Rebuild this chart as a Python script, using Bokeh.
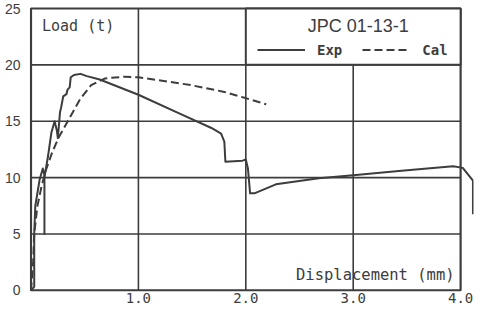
from bokeh.plotting import figure
from bokeh.models import (Range1d, FixedTicker, NumeralTickFormatter, Label,
                          BoxAnnotation, Legend, LegendItem)
from bokeh.embed import file_html
from bokeh.resources import INLINE

# ---- data ----
exp_disp = [0.0, 0.03, 0.03, 0.04, 0.08, 0.11, 0.125, 0.125, 0.125, 0.16, 0.19, 0.22,
            0.24, 0.25, 0.27, 0.28, 0.30, 0.33, 0.34, 0.36, 0.37, 0.40, 0.46, 0.52,
            0.64, 1.00, 1.40, 1.68, 1.77, 1.80, 1.81, 1.97, 2.00, 2.02, 2.04, 2.08,
            2.28, 2.68, 3.00, 3.45, 3.93, 4.02, 4.115, 4.115]
exp_load = [0.0, 0.3, 5.0, 7.5, 9.8, 10.8, 10.2, 5.0, 10.0, 12.0, 14.0, 15.0,
            14.2, 13.5, 15.8, 16.2, 17.2, 17.4, 17.8, 18.0, 18.9, 19.1, 19.2, 19.0,
            18.7, 17.35, 15.6, 14.4, 13.9, 13.2, 11.4, 11.5, 11.6, 10.8, 8.6, 8.6,
            9.4, 9.95, 10.2, 10.6, 11.0, 10.86, 9.72, 6.74]

cal_disp = [0.0, 0.02, 0.03, 0.06, 0.10, 0.14, 0.20, 0.26, 0.36, 0.46, 0.56, 0.69,
            0.87, 1.00, 1.18, 1.49, 1.80, 1.98, 2.19]
cal_load = [0.0, 2.5, 5.0, 7.5, 9.3, 10.7, 12.3, 13.6, 15.3, 17.0, 18.2, 18.8,
            18.95, 18.9, 18.65, 18.2, 17.6, 17.1, 16.5]

x_ticks = [1.0, 2.0, 3.0, 4.0]
y_ticks = [0, 5, 10, 15, 20, 25]
series_names = ["Exp", "Cal"]
title_text = "JPC 01-13-1"
x_title = "Displacement (mm)"
y_title = "Load (t)"

INK = "#3d3d3d"

p = figure(width=474, height=308, output_backend="svg", toolbar_location=None,
           x_range=Range1d(-0.014, 4.12), y_range=Range1d(-0.106, 25.177),
           min_border_left=29, min_border_right=1, min_border_top=6,
           min_border_bottom=17)
p.outline_line_color = None
p.xgrid.grid_line_color = None
p.ygrid.grid_line_color = None
p.background_fill_color = "white"
p.border_fill_color = "white"

xmax = x_ticks[-1]
ymax = y_ticks[-1]
vx = x_ticks[:-1]
hy = y_ticks[1:-1]

# grid lines, derived from the tick arrays
p.segment(x0=vx, y0=[0] * len(vx), x1=vx, y1=[ymax] * len(vx),
          line_color=INK, line_width=1.6)
p.segment(x0=[0] * len(hy), y0=hy, x1=[xmax] * len(hy), y1=hy,
          line_color=INK, line_width=1.6)
# frame border
p.quad(left=[0], right=[xmax], bottom=[0], top=[ymax], fill_color=None,
       line_color=INK, line_width=2.2)

exp_r = p.line(exp_disp, exp_load, line_color=INK, line_width=2, line_join="round")
cal_r = p.line(cal_disp, cal_load, line_color=INK, line_width=2, line_dash="8 4")

# header box (title + legend)
box = BoxAnnotation(left=x_ticks[1], right=xmax, bottom=hy[-1], top=ymax,
                    fill_color="white", fill_alpha=1.0, line_color=INK,
                    line_width=2, line_alpha=1.0)
p.add_layout(box)

p.add_layout(Label(x=3.0, y=ymax, x_offset=5, y_offset=-18, text=title_text,
                   text_align="center", text_baseline="middle",
                   text_font="Liberation Sans", text_font_size="18px",
                   text_color=INK))

legend = Legend(items=[LegendItem(label=series_names[0], renderers=[exp_r]),
                       LegendItem(label=series_names[1], renderers=[cal_r])],
                orientation="horizontal", location=(228, 233),
                glyph_width=48, glyph_height=17, label_height=17,
                label_standoff=12, spacing=20, padding=0, margin=0,
                border_line_color=None, background_fill_alpha=0,
                label_text_font="DejaVu Sans Mono", label_text_font_size="14px",
                label_text_font_style="bold", label_text_color=INK)
p.add_layout(legend)

# axis titles inside the frame
p.add_layout(Label(x=0, y=ymax, x_offset=11, y_offset=-18, text=y_title,
                   text_align="left", text_baseline="middle",
                   text_font="DejaVu Sans Mono", text_font_size="15px",
                   text_color=INK))
p.add_layout(Label(x=xmax, y=0, x_offset=-6, y_offset=15, text=x_title,
                   text_align="right", text_baseline="middle",
                   text_font="DejaVu Sans Mono", text_font_size="15.5px",
                   text_color=INK))

# axes
p.xaxis.ticker = FixedTicker(ticks=x_ticks)
p.xaxis.formatter = NumeralTickFormatter(format="0.0")
p.xaxis.axis_line_color = None
p.xaxis.major_tick_line_color = None
p.xaxis.minor_tick_line_color = None
p.xaxis.major_tick_out = 0
p.xaxis.major_tick_in = 0
p.xaxis.minor_tick_out = 0
p.xaxis.major_label_standoff = 1
p.xaxis.major_label_text_font = "DejaVu Sans Mono"
p.xaxis.major_label_text_font_size = "14px"
p.xaxis.major_label_text_color = INK

p.yaxis.ticker = FixedTicker(ticks=y_ticks)
p.yaxis.axis_line_color = None
p.yaxis.major_tick_line_color = None
p.yaxis.minor_tick_line_color = None
p.yaxis.major_tick_out = 0
p.yaxis.major_tick_in = 0
p.yaxis.minor_tick_out = 0
p.yaxis.major_label_standoff = 9
p.yaxis.major_label_text_font = "Liberation Sans"
p.yaxis.major_label_text_font_size = "14px"
p.yaxis.major_label_text_color = INK

open("out.html", "w").write(file_html(p, INLINE))
